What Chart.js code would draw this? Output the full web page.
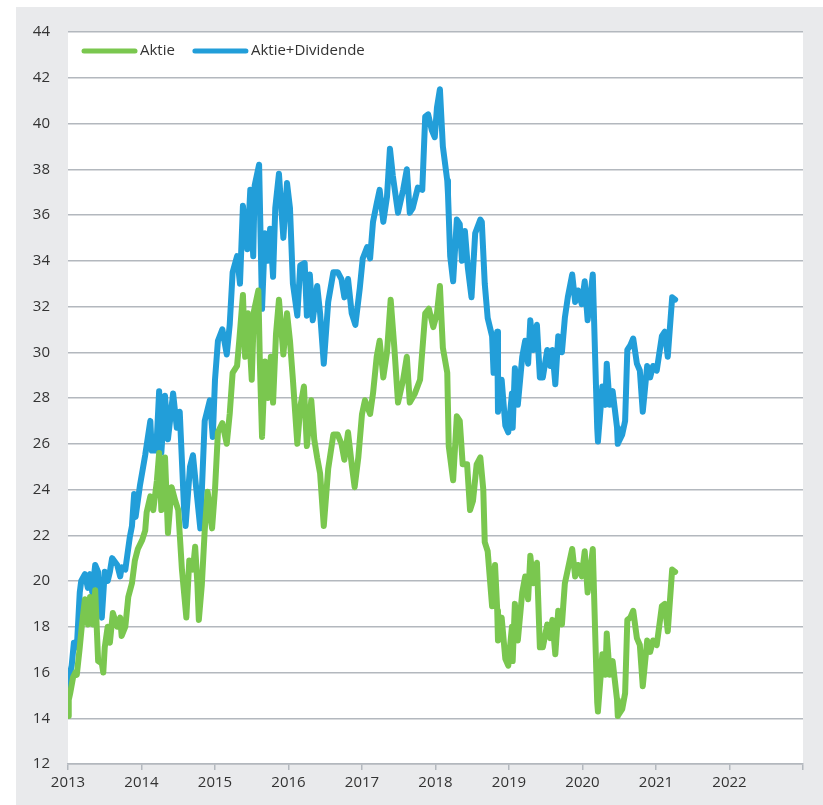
<!DOCTYPE html>
<html>
<head>
<meta charset="utf-8">
<script src="https://cdn.jsdelivr.net/npm/chart.js@4"></script>
<style>
  html, body { margin: 0; padding: 0; background: #ffffff; }
  #wrap { position: absolute; left: 0; top: 0; width: 823px; height: 805px; }
</style>
</head>
<body>
<div id="wrap"><canvas id="chartContainer"></canvas></div>
<script>
"use strict";

// 1: data (fractional year, price)
const aktieYears = [
  2013.00, 2013.01, 2013.03, 2013.07, 2013.10, 2013.12, 2013.16, 2013.19, 2013.23, 2013.27,
  2013.30, 2013.34, 2013.37, 2013.41, 2013.46, 2013.48, 2013.50, 2013.54, 2013.57, 2013.61,
  2013.67, 2013.71, 2013.73, 2013.78, 2013.82, 2013.87, 2013.91, 2013.95, 2014.01, 2014.05,
  2014.07, 2014.12, 2014.16, 2014.21, 2014.24, 2014.27, 2014.32, 2014.36, 2014.41, 2014.46,
  2014.50, 2014.55, 2014.61, 2014.65, 2014.70, 2014.73, 2014.76, 2014.78, 2014.82, 2014.86,
  2014.90, 2014.96, 2015.00, 2015.04, 2015.10, 2015.16, 2015.20, 2015.24, 2015.30, 2015.33,
  2015.38, 2015.41, 2015.45, 2015.50, 2015.53, 2015.59, 2015.61, 2015.64, 2015.68, 2015.72,
  2015.76, 2015.79, 2015.83, 2015.87, 2015.93, 2015.98, 2016.02, 2016.06, 2016.12, 2016.16,
  2016.21, 2016.25, 2016.31, 2016.35, 2016.39, 2016.43, 2016.48, 2016.54, 2016.61, 2016.67,
  2016.72, 2016.76, 2016.81, 2016.86, 2016.90, 2016.95, 2017.00, 2017.04, 2017.11, 2017.15,
  2017.20, 2017.24, 2017.29, 2017.34, 2017.39, 2017.44, 2017.49, 2017.56, 2017.61, 2017.65,
  2017.72, 2017.79, 2017.86, 2017.91, 2017.97, 2018.02, 2018.06, 2018.10, 2018.16, 2018.18,
  2018.24, 2018.29, 2018.33, 2018.37, 2018.43, 2018.47, 2018.51, 2018.56, 2018.61, 2018.65,
  2018.67, 2018.71, 2018.77, 2018.81, 2018.84, 2018.85, 2018.90, 2018.95, 2018.99, 2019.04,
  2019.05, 2019.08, 2019.12, 2019.18, 2019.22, 2019.26, 2019.29, 2019.33, 2019.38, 2019.42,
  2019.46, 2019.52, 2019.56, 2019.59, 2019.63, 2019.67, 2019.72, 2019.76, 2019.80, 2019.86,
  2019.90, 2019.94, 2019.99, 2020.03, 2020.07, 2020.14, 2020.17, 2020.20, 2020.21, 2020.27,
  2020.31, 2020.33, 2020.37, 2020.41, 2020.47, 2020.48, 2020.54, 2020.58, 2020.61, 2020.65,
  2020.69, 2020.74, 2020.78, 2020.82, 2020.88, 2020.92, 2020.96, 2021.01, 2021.08, 2021.12,
  2021.16, 2021.22, 2021.26
];
const aktieValues = [
  14.1, 14.8, 15.1, 15.8, 16.0, 15.9, 17.1, 18.1, 19.2, 18.1,
  19.3, 18.1, 19.6, 16.5, 16.4, 16.0, 17.1, 18.0, 17.3, 18.6,
  18.0, 18.4, 17.6, 18.0, 19.3, 19.9, 20.9, 21.4, 21.8, 22.2,
  23.0, 23.7, 23.1, 24.4, 25.6, 23.1, 25.4, 22.1, 24.1, 23.5,
  23.1, 20.5, 18.4, 20.9, 20.5, 21.5, 19.9, 18.3, 19.8, 22.2,
  23.9, 22.3, 24.0, 26.5, 26.9, 26.0, 27.3, 29.1, 29.4, 30.5,
  32.5, 29.8, 31.7, 28.8, 31.8, 32.7, 29.6, 26.3, 29.6, 28.0,
  29.8, 27.8, 30.8, 32.3, 29.9, 31.7, 30.5, 28.8, 26.0, 27.6,
  28.5, 25.9, 27.9, 26.2, 25.4, 24.7, 22.4, 24.9, 26.4, 26.4,
  26.0, 25.3, 26.5, 25.1, 24.1, 25.4, 27.3, 27.9, 27.3, 28.2,
  29.8, 30.5, 28.9, 30.0, 32.3, 30.2, 27.8, 28.8, 29.8, 27.8,
  28.2, 28.8, 31.7, 31.9, 31.1, 31.7, 32.9, 30.2, 29.1, 25.9,
  24.4, 27.2, 27.0, 25.1, 25.1, 23.1, 23.5, 25.1, 25.4, 24.0,
  21.7, 21.3, 18.9, 20.7, 18.7, 17.4, 18.4, 16.6, 16.3, 18.0,
  16.5, 19.0, 17.4, 19.5, 20.2, 19.2, 21.1, 19.9, 20.8, 17.1,
  17.1, 18.1, 17.5, 18.3, 16.8, 18.7, 18.1, 19.9, 20.5, 21.4,
  20.2, 20.7, 20.2, 21.3, 19.5, 21.4, 18.0, 14.7, 14.3, 16.8,
  15.9, 17.7, 15.9, 16.5, 14.8, 14.1, 14.4, 15.1, 18.3, 18.4,
  18.7, 17.5, 17.2, 15.4, 17.4, 16.9, 17.4, 17.2, 18.9, 19.0,
  17.8, 20.5, 20.4
];

const dividendeYears = [
  2013.00, 2013.01, 2013.03, 2013.05, 2013.08, 2013.12, 2013.16, 2013.18, 2013.23, 2013.27,
  2013.30, 2013.33, 2013.37, 2013.41, 2013.43, 2013.46, 2013.50, 2013.54, 2013.57, 2013.60,
  2013.67, 2013.71, 2013.73, 2013.78, 2013.84, 2013.87, 2013.90, 2013.92, 2013.98, 2014.05,
  2014.12, 2014.14, 2014.20, 2014.24, 2014.27, 2014.32, 2014.36, 2014.43, 2014.48, 2014.52,
  2014.58, 2014.60, 2014.66, 2014.70, 2014.74, 2014.80, 2014.86, 2014.93, 2014.97, 2015.00,
  2015.04, 2015.10, 2015.16, 2015.20, 2015.24, 2015.30, 2015.34, 2015.38, 2015.44, 2015.48,
  2015.52, 2015.54, 2015.60, 2015.64, 2015.68, 2015.72, 2015.75, 2015.79, 2015.82, 2015.87,
  2015.93, 2015.98, 2016.02, 2016.06, 2016.12, 2016.16, 2016.22, 2016.25, 2016.29, 2016.33,
  2016.39, 2016.43, 2016.48, 2016.54, 2016.61, 2016.67, 2016.72, 2016.76, 2016.81, 2016.86,
  2016.91, 2016.97, 2017.01, 2017.07, 2017.11, 2017.15, 2017.20, 2017.24, 2017.29, 2017.34,
  2017.38, 2017.42, 2017.49, 2017.56, 2017.61, 2017.65, 2017.69, 2017.76, 2017.82, 2017.86,
  2017.90, 2017.95, 2017.99, 2018.02, 2018.06, 2018.10, 2018.16, 2018.17, 2018.20, 2018.24,
  2018.29, 2018.33, 2018.36, 2018.40, 2018.44, 2018.49, 2018.54, 2018.61, 2018.63, 2018.67,
  2018.71, 2018.77, 2018.79, 2018.84, 2018.85, 2018.90, 2018.95, 2018.99, 2019.04, 2019.05,
  2019.08, 2019.12, 2019.18, 2019.22, 2019.26, 2019.29, 2019.33, 2019.38, 2019.42, 2019.46,
  2019.52, 2019.56, 2019.59, 2019.63, 2019.67, 2019.72, 2019.76, 2019.80, 2019.86, 2019.90,
  2019.94, 2019.99, 2020.03, 2020.07, 2020.14, 2020.17, 2020.20, 2020.21, 2020.27, 2020.31,
  2020.33, 2020.37, 2020.41, 2020.47, 2020.48, 2020.54, 2020.58, 2020.61, 2020.65, 2020.69,
  2020.74, 2020.78, 2020.82, 2020.88, 2020.92, 2020.96, 2021.01, 2021.08, 2021.12, 2021.16,
  2021.22, 2021.26
];
const dividendeValues = [
  15.8, 15.3, 16.0, 16.3, 17.3, 17.1, 19.5, 20.0, 20.3, 19.7,
  20.3, 19.5, 20.7, 20.4, 19.0, 18.4, 20.4, 20.0, 20.4, 21.0,
  20.7, 20.2, 20.6, 20.5, 21.9, 22.4, 23.8, 22.8, 24.2, 25.5,
  27.0, 25.7, 25.7, 28.3, 25.6, 28.1, 26.2, 28.2, 26.7, 27.4,
  23.1, 22.4, 25.0, 25.5, 24.2, 22.3, 27.0, 27.9, 26.3, 28.8,
  30.5, 31.0, 29.9, 31.2, 33.5, 34.2, 33.0, 36.4, 34.5, 37.1,
  34.2, 37.3, 38.2, 31.9, 35.2, 34.0, 35.4, 33.3, 36.3, 37.8,
  35.0, 37.4, 36.3, 33.0, 31.6, 33.8, 33.9, 31.6, 33.4, 31.4,
  32.9, 31.7, 29.5, 32.2, 33.5, 33.5, 33.2, 32.4, 33.2, 31.7,
  31.2, 32.8, 34.1, 34.6, 34.1, 35.7, 36.5, 37.1, 35.7, 36.8,
  38.9, 37.7, 36.1, 37.1, 38.0, 36.1, 36.3, 37.2, 37.1, 40.3,
  40.4, 39.7, 39.4, 40.7, 41.5, 39.0, 37.5, 36.9, 34.2, 33.1,
  35.8, 35.6, 34.0, 35.3, 33.7, 32.4, 35.2, 35.8, 35.7, 33.0,
  31.5, 30.7, 29.1, 30.9, 27.4, 28.8, 26.8, 26.5, 28.2, 26.7,
  29.3, 27.7, 29.8, 30.5, 29.5, 31.4, 30.1, 31.2, 28.9, 28.9,
  30.1, 29.4, 30.1, 28.6, 30.7, 30.0, 31.5, 32.4, 33.4, 32.2,
  32.7, 32.1, 33.1, 31.4, 33.4, 30.0, 26.7, 26.1, 28.5, 27.7,
  29.5, 27.7, 28.3, 26.7, 26.0, 26.4, 27.0, 30.1, 30.3, 30.6,
  29.5, 29.2, 27.4, 29.4, 28.9, 29.4, 29.2, 30.7, 30.9, 29.8,
  32.4, 32.3
];

const yearTicks = [2013, 2014, 2015, 2016, 2017, 2018, 2019, 2020, 2021, 2022, 2023];
const seriesLabels = ['Aktie', 'Aktie+Dividende'];

// 2: prepare data for chart
function toPoints(xs, ys) {
  let points = [];
  for (let i = 0; i < xs.length; i++) {
    points.push({ x: xs[i], y: ys[i] });
  }
  return points;
}

const FONT = "'Open Sans', 'DejaVu Sans', sans-serif";
const GRID = '#b3b8be';

// grey frame + white plot area
const backgroundPlugin = {
  id: 'frame',
  beforeDraw(chart) {
    const ctx = chart.ctx;
    const a = chart.chartArea;
    ctx.save();
    ctx.fillStyle = '#e9eaec';
    ctx.fillRect(16, 7, chart.width - 16, chart.height - 7);
    ctx.fillStyle = '#ffffff';
    ctx.fillRect(a.left, a.top, a.right - a.left, a.bottom - a.top);
    ctx.restore();
  }
};

// legend drawn inside the plot area, top left
const legendPlugin = {
  id: 'innerLegend',
  afterDatasetsDraw(chart) {
    const ctx = chart.ctx;
    const a = chart.chartArea;
    let x = a.left + 14;
    const y = a.top + 19;
    ctx.save();
    ctx.font = '15px ' + FONT;
    ctx.textBaseline = 'middle';
    chart.data.datasets.forEach(ds => {
      ctx.strokeStyle = ds.borderColor;
      ctx.lineWidth = 5;
      ctx.lineCap = 'round';
      ctx.beginPath();
      ctx.moveTo(x + 2, y);
      ctx.lineTo(x + 53, y);
      ctx.stroke();
      ctx.fillStyle = '#333333';
      ctx.fillText(ds.label, x + 58, y);
      x += 58 + ctx.measureText(ds.label).width + 18;
    });
    ctx.restore();
  }
};

// 3: create the chart
function appendChart() {
  let chartContainer = document.getElementById('chartContainer');
  new Chart(chartContainer, {
    type: 'line',
    data: {
      datasets: [{
        label: seriesLabels[0],
        data: toPoints(aktieYears, aktieValues),
        borderColor: '#7ac74f',
        backgroundColor: '#7ac74f',
        borderWidth: 6
      },
      {
        label: seriesLabels[1],
        data: toPoints(dividendeYears, dividendeValues),
        borderColor: '#229ed9',
        backgroundColor: '#229ed9',
        borderWidth: 6
      }]
    },
    options: {
      responsive: true,
      maintainAspectRatio: false,
      animation: false,
      events: [],
      elements: {
        point: { radius: 0 },
        line: { tension: 0, borderJoinStyle: 'round', borderCapStyle: 'round' }
      },
      layout: { padding: { top: 32, right: 20, left: 0, bottom: 0 } },
      plugins: {
        legend: { display: false },
        tooltip: { enabled: false }
      },
      scales: {
        x: {
          type: 'linear',
          min: yearTicks[0],
          max: yearTicks[yearTicks.length - 1],
          afterBuildTicks: s => { s.ticks = yearTicks.map(v => ({ value: v })); },
          afterFit: s => { s.height = 41; },
          grid: {
            drawOnChartArea: false,
            drawTicks: true,
            tickLength: 6,
            color: GRID,
            lineWidth: 1.5
          },
          border: { display: true, color: GRID, width: 1.5 },
          ticks: {
            color: '#333333',
            font: { family: FONT, size: 15 },
            padding: 4,
            maxRotation: 0,
            autoSkip: false,
            callback: v => (v === yearTicks[yearTicks.length - 1] ? '' : String(v))
          }
        },
        y: {
          min: 12,
          max: 44,
          afterFit: s => { s.width = 68; },
          grid: {
            drawTicks: false,
            color: GRID,
            lineWidth: 1.5
          },
          border: { display: false },
          ticks: {
            stepSize: 2,
            color: '#333333',
            font: { family: FONT, size: 15 },
            padding: 18
          }
        }
      }
    },
    plugins: [backgroundPlugin, legendPlugin]
  });
}

appendChart();
</script>
</body>
</html>
